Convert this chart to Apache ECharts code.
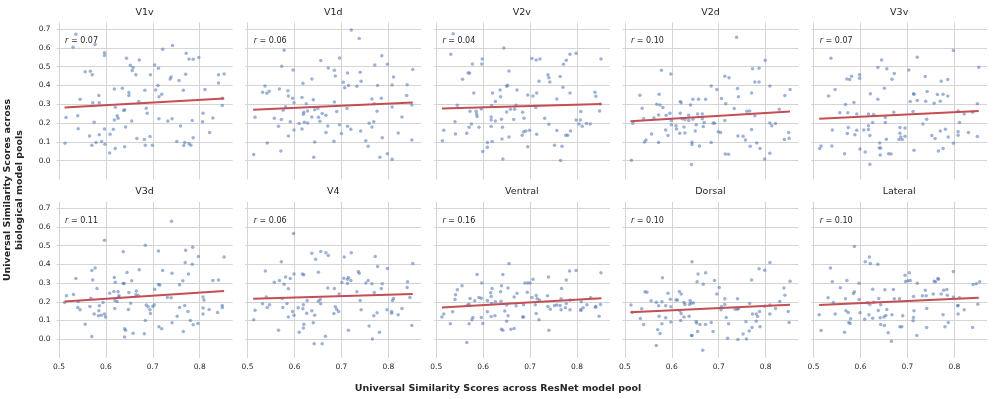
<!DOCTYPE html>
<html><head><meta charset="utf-8">
<script src="https://cdn.jsdelivr.net/npm/echarts@6/dist/echarts.min.js"></script>
<style>html,body{margin:0;padding:0;background:#fff}#c{width:996px;height:399px}</style>
</head><body><div id="c"></div>
<script>
const panelNames = ['V1v','V1d','V2v','V2d','V3v','V3d','V4','Ventral','Dorsal','Lateral'];
const rValues = [0.07,0.06,0.04,0.10,0.07,0.11,0.06,0.16,0.10,0.10];
const fitX = [0.512, 0.852];
const fitStart = [0.282,0.271,0.277,0.209,0.223,0.201,0.216,0.169,0.144,0.182];
const fitEnd   = [0.330,0.309,0.301,0.261,0.264,0.257,0.242,0.219,0.184,0.221];
const xTicks = [0.5,0.6,0.7,0.8];
const yTicks = [0.0,0.1,0.2,0.3,0.4,0.5,0.6,0.7];
const xLabel = 'Universal Similarity Scores across ResNet model pool';
const yLabel = 'Universal Similarity Scores across\nbiological model pools';

const V1v = [[0.536,0.672],[0.530,0.603],[0.577,0.617],[0.597,0.574],[0.597,0.559],[0.556,0.472],[0.567,0.475],[0.571,0.456],[0.545,0.326],[0.585,0.346],[0.572,0.307],[0.586,0.307],[0.515,0.229],[0.540,0.238],[0.541,0.170],[0.575,0.204],[0.513,0.092],[0.565,0.131],[0.586,0.137],[0.570,0.082],[0.579,0.096],[0.591,0.101],[0.597,0.168],[0.598,0.087],[0.608,0.041],[0.609,0.140],[0.616,0.167],[0.618,0.216],[0.618,0.381],[0.620,0.284],[0.620,0.064],[0.624,0.239],[0.626,0.225],[0.635,0.385],[0.638,0.266],[0.640,0.271],[0.642,0.179],[0.640,0.073],[0.644,0.544],[0.649,0.362],[0.649,0.346],[0.652,0.507],[0.655,0.211],[0.656,0.479],[0.658,0.495],[0.664,0.456],[0.666,0.117],[0.671,0.535],[0.670,0.314],[0.683,0.374],[0.682,0.112],[0.686,0.278],[0.688,0.252],[0.684,0.082],[0.694,0.128],[0.695,0.457],[0.699,0.082],[0.704,0.509],[0.706,0.376],[0.712,0.491],[0.711,0.399],[0.713,0.340],[0.719,0.353],[0.713,0.222],[0.721,0.592],[0.732,0.211],[0.737,0.434],[0.739,0.445],[0.741,0.223],[0.742,0.612],[0.751,0.101],[0.756,0.426],[0.759,0.184],[0.765,0.374],[0.766,0.080],[0.768,0.096],[0.770,0.459],[0.771,0.571],[0.777,0.090],[0.777,0.541],[0.781,0.082],[0.784,0.213],[0.786,0.121],[0.786,0.539],[0.798,0.548],[0.807,0.252],[0.806,0.207],[0.811,0.378],[0.821,0.149],[0.828,0.227],[0.840,0.457],[0.840,0.413],[0.848,0.332],[0.848,0.293],[0.852,0.461]];
const V1d = [[0.721,0.695],[0.738,0.649],[0.578,0.587],[0.696,0.546],[0.656,0.532],[0.786,0.557],[0.573,0.502],[0.597,0.482],[0.672,0.493],[0.685,0.480],[0.771,0.509],[0.798,0.512],[0.713,0.466],[0.740,0.470],[0.687,0.450],[0.637,0.434],[0.811,0.445],[0.852,0.484],[0.742,0.422],[0.704,0.417],[0.618,0.411],[0.715,0.399],[0.733,0.395],[0.707,0.387],[0.537,0.397],[0.532,0.363],[0.541,0.358],[0.546,0.369],[0.568,0.381],[0.586,0.371],[0.587,0.344],[0.777,0.399],[0.808,0.402],[0.840,0.404],[0.839,0.346],[0.596,0.332],[0.599,0.307],[0.616,0.335],[0.640,0.324],[0.625,0.303],[0.685,0.312],[0.765,0.328],[0.785,0.332],[0.770,0.303],[0.808,0.285],[0.850,0.296],[0.581,0.287],[0.576,0.268],[0.628,0.264],[0.620,0.257],[0.619,0.246],[0.643,0.271],[0.650,0.277],[0.659,0.250],[0.667,0.241],[0.651,0.230],[0.690,0.261],[0.712,0.277],[0.776,0.262],[0.516,0.230],[0.557,0.225],[0.572,0.218],[0.591,0.206],[0.610,0.197],[0.621,0.204],[0.628,0.200],[0.637,0.232],[0.654,0.209],[0.566,0.183],[0.671,0.184],[0.696,0.190],[0.713,0.183],[0.720,0.167],[0.759,0.199],[0.769,0.207],[0.829,0.232],[0.599,0.163],[0.616,0.168],[0.667,0.149],[0.700,0.144],[0.741,0.158],[0.765,0.179],[0.587,0.131],[0.787,0.121],[0.821,0.147],[0.542,0.094],[0.643,0.099],[0.684,0.103],[0.752,0.106],[0.757,0.076],[0.850,0.110],[0.513,0.032],[0.571,0.051],[0.641,0.018],[0.798,0.037],[0.782,0.018],[0.808,0.007]];
const V2v = [[0.536,0.674],[0.531,0.566],[0.644,0.599],[0.598,0.541],[0.597,0.514],[0.577,0.514],[0.568,0.466],[0.571,0.466],[0.556,0.433],[0.655,0.477],[0.580,0.360],[0.652,0.401],[0.650,0.395],[0.704,0.543],[0.713,0.535],[0.721,0.541],[0.738,0.456],[0.740,0.441],[0.719,0.422],[0.742,0.418],[0.771,0.512],[0.777,0.534],[0.785,0.566],[0.798,0.571],[0.851,0.541],[0.764,0.447],[0.770,0.390],[0.785,0.360],[0.838,0.363],[0.840,0.342],[0.636,0.376],[0.637,0.340],[0.620,0.360],[0.626,0.314],[0.672,0.376],[0.695,0.349],[0.706,0.344],[0.714,0.360],[0.757,0.328],[0.545,0.294],[0.618,0.293],[0.670,0.294],[0.658,0.273],[0.667,0.273],[0.712,0.282],[0.849,0.301],[0.848,0.264],[0.808,0.261],[0.572,0.262],[0.585,0.262],[0.586,0.248],[0.587,0.234],[0.596,0.275],[0.617,0.232],[0.617,0.216],[0.650,0.259],[0.684,0.257],[0.687,0.225],[0.731,0.225],[0.665,0.218],[0.639,0.220],[0.540,0.207],[0.575,0.195],[0.626,0.211],[0.798,0.216],[0.807,0.216],[0.804,0.195],[0.811,0.183],[0.820,0.197],[0.828,0.195],[0.740,0.193],[0.570,0.177],[0.591,0.177],[0.617,0.181],[0.641,0.177],[0.516,0.161],[0.565,0.145],[0.541,0.142],[0.686,0.154],[0.683,0.135],[0.691,0.158],[0.699,0.161],[0.714,0.140],[0.757,0.160],[0.786,0.158],[0.776,0.135],[0.780,0.135],[0.655,0.126],[0.640,0.115],[0.513,0.105],[0.609,0.096],[0.619,0.101],[0.609,0.071],[0.599,0.048],[0.695,0.074],[0.752,0.082],[0.768,0.076],[0.642,0.009],[0.765,0.000]];
const V2d = [[0.738,0.656],[0.799,0.534],[0.578,0.480],[0.598,0.461],[0.772,0.489],[0.786,0.491],[0.713,0.449],[0.722,0.440],[0.777,0.418],[0.786,0.418],[0.684,0.397],[0.696,0.378],[0.740,0.383],[0.809,0.397],[0.852,0.378],[0.841,0.346],[0.532,0.348],[0.573,0.353],[0.742,0.340],[0.770,0.360],[0.645,0.326],[0.657,0.326],[0.672,0.326],[0.706,0.330],[0.618,0.314],[0.620,0.307],[0.715,0.303],[0.568,0.300],[0.575,0.296],[0.581,0.282],[0.537,0.278],[0.640,0.296],[0.733,0.277],[0.760,0.262],[0.766,0.264],[0.829,0.273],[0.596,0.252],[0.618,0.252],[0.636,0.241],[0.655,0.248],[0.665,0.248],[0.572,0.243],[0.588,0.241],[0.540,0.223],[0.562,0.227],[0.622,0.222],[0.628,0.218],[0.645,0.220],[0.665,0.223],[0.777,0.238],[0.517,0.199],[0.599,0.213],[0.599,0.190],[0.609,0.186],[0.636,0.213],[0.652,0.190],[0.669,0.202],[0.688,0.200],[0.691,0.199],[0.713,0.213],[0.809,0.200],[0.813,0.186],[0.821,0.197],[0.587,0.163],[0.610,0.168],[0.626,0.179],[0.667,0.181],[0.650,0.158],[0.617,0.145],[0.628,0.147],[0.699,0.154],[0.704,0.149],[0.770,0.165],[0.557,0.142],[0.592,0.133],[0.741,0.131],[0.752,0.129],[0.757,0.110],[0.849,0.149],[0.850,0.119],[0.840,0.112],[0.545,0.110],[0.542,0.099],[0.572,0.096],[0.643,0.098],[0.643,0.085],[0.684,0.096],[0.659,0.078],[0.767,0.076],[0.781,0.094],[0.788,0.064],[0.714,0.035],[0.721,0.034],[0.809,0.039],[0.514,0.002],[0.798,0.009],[0.642,-0.021]];
const V3v = [[0.798,0.585],[0.537,0.544],[0.645,0.535],[0.721,0.550],[0.852,0.496],[0.637,0.495],[0.656,0.488],[0.703,0.482],[0.672,0.463],[0.598,0.456],[0.598,0.438],[0.581,0.449],[0.577,0.431],[0.571,0.434],[0.667,0.433],[0.738,0.447],[0.772,0.422],[0.786,0.431],[0.651,0.385],[0.546,0.378],[0.532,0.344],[0.621,0.356],[0.713,0.356],[0.714,0.353],[0.742,0.367],[0.764,0.351],[0.776,0.353],[0.786,0.344],[0.637,0.326],[0.706,0.314],[0.721,0.319],[0.739,0.316],[0.757,0.305],[0.770,0.316],[0.586,0.309],[0.568,0.298],[0.849,0.303],[0.556,0.255],[0.573,0.254],[0.592,0.248],[0.617,0.248],[0.628,0.245],[0.671,0.257],[0.712,0.261],[0.808,0.264],[0.821,0.248],[0.839,0.257],[0.653,0.229],[0.741,0.220],[0.626,0.202],[0.617,0.186],[0.653,0.202],[0.733,0.195],[0.811,0.202],[0.574,0.176],[0.540,0.163],[0.592,0.161],[0.607,0.163],[0.617,0.165],[0.684,0.176],[0.695,0.174],[0.572,0.144],[0.588,0.138],[0.620,0.133],[0.684,0.145],[0.695,0.129],[0.686,0.126],[0.689,0.112],[0.682,0.112],[0.655,0.113],[0.752,0.133],[0.759,0.117],[0.770,0.158],[0.781,0.167],[0.787,0.126],[0.808,0.154],[0.808,0.135],[0.830,0.149],[0.849,0.128],[0.798,0.092],[0.641,0.094],[0.516,0.078],[0.539,0.078],[0.513,0.064],[0.599,0.062],[0.640,0.067],[0.643,0.067],[0.610,0.046],[0.566,0.037],[0.642,0.030],[0.660,0.037],[0.665,0.035],[0.714,0.055],[0.766,0.051],[0.776,0.064],[0.620,-0.020]];
const V3d = [[0.740,0.631],[0.597,0.529],[0.637,0.467],[0.684,0.503],[0.712,0.472],[0.770,0.476],[0.785,0.492],[0.797,0.442],[0.852,0.439],[0.769,0.410],[0.784,0.401],[0.721,0.367],[0.671,0.371],[0.645,0.357],[0.570,0.367],[0.577,0.381],[0.536,0.324],[0.572,0.317],[0.618,0.330],[0.637,0.298],[0.639,0.298],[0.655,0.312],[0.620,0.305],[0.581,0.271],[0.741,0.353],[0.776,0.349],[0.764,0.312],[0.757,0.291],[0.828,0.314],[0.840,0.317],[0.704,0.267],[0.712,0.292],[0.715,0.289],[0.608,0.246],[0.617,0.255],[0.626,0.253],[0.649,0.250],[0.665,0.258],[0.664,0.237],[0.669,0.234],[0.531,0.239],[0.516,0.232],[0.568,0.219],[0.627,0.226],[0.628,0.232],[0.512,0.196],[0.541,0.201],[0.594,0.196],[0.619,0.207],[0.624,0.201],[0.653,0.192],[0.731,0.223],[0.739,0.221],[0.807,0.226],[0.809,0.209],[0.540,0.169],[0.545,0.157],[0.566,0.175],[0.586,0.178],[0.619,0.164],[0.648,0.159],[0.686,0.182],[0.690,0.173],[0.694,0.157],[0.700,0.175],[0.703,0.184],[0.695,0.137],[0.757,0.169],[0.768,0.180],[0.807,0.166],[0.820,0.159],[0.848,0.180],[0.848,0.168],[0.585,0.152],[0.575,0.135],[0.584,0.125],[0.590,0.128],[0.597,0.135],[0.599,0.118],[0.752,0.123],[0.775,0.148],[0.807,0.135],[0.838,0.143],[0.556,0.080],[0.684,0.100],[0.780,0.100],[0.786,0.077],[0.796,0.084],[0.741,0.087],[0.713,0.066],[0.719,0.055],[0.640,0.055],[0.642,0.048],[0.658,0.032],[0.682,0.029],[0.765,0.041],[0.570,0.014],[0.640,0.012]];
const V4 = [[0.598,0.565],[0.637,0.460],[0.656,0.469],[0.667,0.462],[0.672,0.447],[0.645,0.428],[0.721,0.462],[0.706,0.439],[0.772,0.442],[0.777,0.389],[0.798,0.378],[0.852,0.405],[0.572,0.414],[0.538,0.364],[0.599,0.349],[0.617,0.349],[0.620,0.344],[0.651,0.358],[0.736,0.362],[0.738,0.353],[0.581,0.333],[0.591,0.324],[0.557,0.305],[0.568,0.314],[0.578,0.294],[0.587,0.269],[0.705,0.326],[0.713,0.321],[0.715,0.330],[0.720,0.314],[0.713,0.298],[0.701,0.303],[0.752,0.301],[0.757,0.314],[0.765,0.296],[0.785,0.271],[0.787,0.296],[0.841,0.307],[0.840,0.276],[0.671,0.273],[0.685,0.271],[0.733,0.253],[0.770,0.250],[0.695,0.241],[0.540,0.226],[0.574,0.217],[0.651,0.203],[0.655,0.212],[0.656,0.189],[0.627,0.207],[0.740,0.207],[0.809,0.207],[0.811,0.217],[0.846,0.223],[0.532,0.189],[0.547,0.184],[0.542,0.169],[0.575,0.169],[0.584,0.191],[0.619,0.184],[0.618,0.162],[0.608,0.168],[0.687,0.173],[0.690,0.160],[0.694,0.148],[0.516,0.155],[0.596,0.148],[0.599,0.128],[0.637,0.152],[0.626,0.139],[0.643,0.128],[0.684,0.137],[0.742,0.157],[0.797,0.157],[0.807,0.148],[0.807,0.139],[0.821,0.130],[0.829,0.164],[0.776,0.141],[0.769,0.125],[0.587,0.119],[0.513,0.103],[0.620,0.080],[0.619,0.059],[0.640,0.087],[0.759,0.070],[0.850,0.073],[0.566,0.048],[0.610,0.037],[0.715,0.048],[0.781,0.037],[0.666,0.016],[0.766,0.000],[0.642,-0.025],[0.659,-0.025]];
const Ventral = [[0.655,0.405],[0.587,0.346],[0.784,0.365],[0.798,0.367],[0.851,0.355],[0.642,0.346],[0.739,0.332],[0.777,0.317],[0.706,0.321],[0.689,0.301],[0.695,0.301],[0.700,0.301],[0.597,0.301],[0.555,0.285],[0.545,0.264],[0.541,0.237],[0.540,0.212],[0.619,0.271],[0.639,0.285],[0.653,0.273],[0.637,0.253],[0.672,0.246],[0.694,0.251],[0.767,0.271],[0.616,0.248],[0.617,0.228],[0.591,0.223],[0.596,0.219],[0.572,0.217],[0.666,0.225],[0.704,0.223],[0.713,0.233],[0.715,0.216],[0.720,0.210],[0.737,0.232],[0.711,0.184],[0.638,0.203],[0.626,0.200],[0.609,0.207],[0.582,0.205],[0.618,0.191],[0.570,0.187],[0.567,0.182],[0.650,0.182],[0.670,0.178],[0.686,0.184],[0.766,0.216],[0.785,0.209],[0.809,0.200],[0.829,0.223],[0.850,0.185],[0.752,0.180],[0.757,0.182],[0.764,0.180],[0.777,0.191],[0.738,0.175],[0.743,0.160],[0.766,0.157],[0.775,0.168],[0.785,0.157],[0.813,0.168],[0.808,0.153],[0.808,0.159],[0.821,0.184],[0.839,0.171],[0.840,0.175],[0.535,0.146],[0.516,0.134],[0.512,0.119],[0.609,0.146],[0.646,0.150],[0.653,0.125],[0.684,0.119],[0.686,0.119],[0.713,0.137],[0.625,0.125],[0.617,0.121],[0.596,0.116],[0.578,0.116],[0.576,0.103],[0.847,0.123],[0.530,0.082],[0.570,0.082],[0.599,0.084],[0.650,0.096],[0.719,0.103],[0.639,0.053],[0.642,0.048],[0.659,0.053],[0.666,0.057],[0.740,0.048],[0.565,-0.018]];
const Dorsal = [[0.643,0.414],[0.809,0.410],[0.786,0.376],[0.798,0.369],[0.656,0.348],[0.672,0.355],[0.580,0.328],[0.770,0.317],[0.691,0.314],[0.852,0.310],[0.654,0.307],[0.667,0.294],[0.701,0.276],[0.839,0.273],[0.543,0.253],[0.547,0.251],[0.592,0.246],[0.616,0.255],[0.620,0.242],[0.696,0.242],[0.841,0.235],[0.597,0.214],[0.609,0.210],[0.612,0.210],[0.639,0.207],[0.713,0.216],[0.740,0.216],[0.556,0.205],[0.567,0.198],[0.579,0.200],[0.626,0.196],[0.641,0.193],[0.638,0.185],[0.513,0.182],[0.572,0.178],[0.587,0.178],[0.598,0.173],[0.628,0.185],[0.646,0.193],[0.713,0.185],[0.766,0.191],[0.830,0.201],[0.809,0.182],[0.798,0.176],[0.706,0.175],[0.705,0.157],[0.735,0.160],[0.740,0.160],[0.742,0.164],[0.821,0.164],[0.536,0.162],[0.617,0.152],[0.620,0.137],[0.516,0.144],[0.626,0.119],[0.637,0.123],[0.587,0.114],[0.573,0.123],[0.533,0.111],[0.787,0.148],[0.772,0.134],[0.780,0.134],[0.783,0.121],[0.809,0.134],[0.848,0.148],[0.850,0.089],[0.716,0.116],[0.540,0.078],[0.579,0.082],[0.598,0.091],[0.619,0.100],[0.652,0.094],[0.653,0.086],[0.660,0.078],[0.672,0.078],[0.684,0.089],[0.721,0.082],[0.758,0.093],[0.780,0.096],[0.771,0.062],[0.765,0.043],[0.788,0.066],[0.570,0.050],[0.575,0.030],[0.655,0.041],[0.688,0.041],[0.642,0.020],[0.643,0.020],[0.719,0.004],[0.741,-0.002],[0.759,0.000],[0.752,0.027],[0.567,-0.034],[0.666,-0.059]];
const Lateral = [[0.587,0.496],[0.619,0.439],[0.610,0.414],[0.621,0.405],[0.637,0.401],[0.536,0.380],[0.798,0.362],[0.704,0.355],[0.695,0.342],[0.701,0.312],[0.706,0.314],[0.696,0.308],[0.765,0.324],[0.766,0.321],[0.757,0.310],[0.760,0.307],[0.721,0.299],[0.571,0.314],[0.540,0.307],[0.597,0.299],[0.854,0.307],[0.847,0.296],[0.840,0.292],[0.557,0.275],[0.626,0.267],[0.652,0.264],[0.670,0.266],[0.738,0.262],[0.777,0.262],[0.784,0.266],[0.587,0.253],[0.585,0.244],[0.772,0.241],[0.755,0.242],[0.785,0.235],[0.732,0.232],[0.740,0.232],[0.713,0.228],[0.531,0.221],[0.568,0.216],[0.597,0.212],[0.639,0.217],[0.672,0.216],[0.683,0.216],[0.798,0.226],[0.811,0.221],[0.542,0.196],[0.615,0.194],[0.620,0.185],[0.628,0.198],[0.643,0.184],[0.850,0.187],[0.808,0.180],[0.807,0.178],[0.512,0.130],[0.546,0.135],[0.569,0.152],[0.574,0.143],[0.599,0.141],[0.638,0.153],[0.656,0.159],[0.741,0.164],[0.618,0.130],[0.579,0.109],[0.609,0.107],[0.626,0.112],[0.642,0.114],[0.650,0.119],[0.654,0.127],[0.667,0.130],[0.690,0.125],[0.714,0.152],[0.776,0.130],[0.808,0.134],[0.821,0.157],[0.575,0.089],[0.578,0.084],[0.713,0.116],[0.712,0.098],[0.643,0.078],[0.651,0.073],[0.684,0.066],[0.688,0.066],[0.741,0.062],[0.780,0.066],[0.787,0.089],[0.839,0.062],[0.516,0.046],[0.566,0.037],[0.659,0.034],[0.720,0.020],[0.666,-0.012]];

const panelData = [V1v,V1d,V2v,V2d,V3v,V3d,V4,Ventral,Dorsal,Lateral];

const FONT = 'DejaVu Sans';
const TXT = '#262626';
const colLefts = [56.6, 245.2, 433.9, 622.5, 811.2];
const gridW = 176;
const rowTops = [22.4, 201.8];
const rowH = [157, 156];
const xMin = 0.495, xMax = 0.87, yMin = -0.1, yMax = 0.735;

const grids = [], xAxes = [], yAxes = [], series = [], titles = [];
panelNames.forEach((name, i) => {
  const row = Math.floor(i / 5), col = i % 5;
  grids.push({left: colLefts[col], top: rowTops[row], width: gridW, height: rowH[row], containLabel: false});
  xAxes.push({
    type: 'value', gridIndex: i, min: xMin, max: xMax, splitNumber: 4,
    axisLine: {show: false}, axisTick: {show: false},
    axisLabel: {show: row === 1, showMinLabel: false, showMaxLabel: false, fontFamily: FONT, fontSize: 7.5, color: TXT, margin: 5,
      formatter: v => xTicks.some(t => Math.abs(t - v) < 1e-6) ? v.toFixed(1) : ''},
    splitLine: {show: true, showMinLine: false, showMaxLine: false, lineStyle: {color: '#d4d4d4', width: 1}}
  });
  yAxes.push({
    type: 'value', gridIndex: i, min: yMin, max: yMax, interval: 0.1,
    axisLine: {show: false}, axisTick: {show: false},
    axisLabel: {show: col === 0, showMinLabel: false, showMaxLabel: false, fontFamily: FONT, fontSize: 7.5, color: TXT, margin: 6,
      formatter: v => yTicks.some(t => Math.abs(t - v) < 1e-6) ? v.toFixed(1) : ''},
    splitLine: {show: true, showMinLine: false, showMaxLine: false, lineStyle: {color: '#d4d4d4', width: 1}}
  });
  series.push({
    type: 'scatter', xAxisIndex: i, yAxisIndex: i, data: panelData[i], symbolSize: 3.5,
    itemStyle: {color: '#4c72b0', opacity: 0.55}, silent: true, animation: false
  });
  series.push({
    type: 'line', xAxisIndex: i, yAxisIndex: i, data: [[fitX[0], fitStart[i]], [fitX[1], fitEnd[i]]],
    showSymbol: false, symbol: 'none', lineStyle: {color: '#c44e52', width: 2}, silent: true, animation: false, z: 5
  });
  titles.push({
    text: name, left: colLefts[col] + gridW / 2, top: row === 0 ? 7.5 : 187, textAlign: 'center', padding: 0,
    textStyle: {fontFamily: FONT, fontSize: 9.5, fontWeight: 'normal', color: TXT}
  });
  titles.push({
    text: '{i|r} = ' + rValues[i].toFixed(2), left: colLefts[col] + 8.5, top: row === 0 ? 37 : 216.5, padding: 0,
    textStyle: {fontFamily: FONT, fontSize: 8, fontWeight: 'normal', color: TXT,
      rich: {i: {fontFamily: FONT, fontSize: 8, fontStyle: 'italic', color: TXT}}}
  });
});

const chart = echarts.init(document.getElementById('c'), null, {renderer: 'canvas'});
chart.setOption({
  backgroundColor: '#ffffff',
  animation: false,
  title: titles,
  grid: grids, xAxis: xAxes, yAxis: yAxes, series: series,
  graphic: [
    {type: 'text', x: 498, y: 389, style: {text: xLabel, font: 'bold 9.5px "DejaVu Sans"', fill: TXT, align: 'center', verticalAlign: 'middle'}},
    {type: 'text', x: 14, y: 190, rotation: Math.PI / 2, style: {text: yLabel, font: 'bold 9.5px "DejaVu Sans"', fill: TXT, align: 'center', verticalAlign: 'middle', lineHeight: 12}}
  ]
});
</script></body></html>
